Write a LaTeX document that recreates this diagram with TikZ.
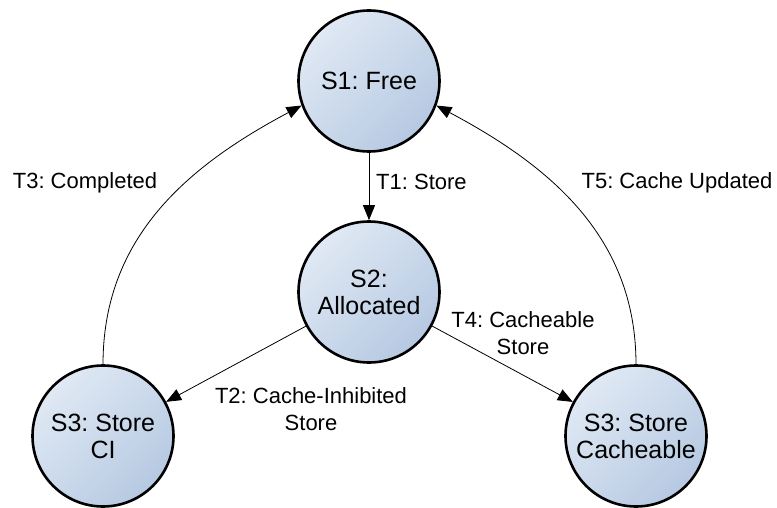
\documentclass[tikz,border=0pt]{standalone}
\usepackage{fontspec}
\setmainfont{Liberation Sans}
\usetikzlibrary{arrows.meta}
\definecolor{gradA}{HTML}{E0E9F4}
\definecolor{gradB}{HTML}{B6C9E2}
\frenchspacing
\begin{document}
\begin{tikzpicture}[x=1pt,y=1pt,
  state/.style={circle, draw=black, line width=2.6pt, minimum size=141pt, inner sep=0pt,
    align=center, font=\fontsize{25}{27}\selectfont,
    top color=gradA, bottom color=gradB, shading angle=45},
  trans/.style={-{Triangle[length=15pt,width=12pt]}, line width=0.8pt},
  lbl/.style={align=center, font=\fontsize{22}{27}\selectfont, inner sep=0pt}]
\useasboundingbox (0,0) rectangle (777,-508);
\node[state] (S1) at (369,-81) {S1: Free};
\node[state] (S2) at (369,-292) {S2:\\Allocated};
\node[state] (S3CI) at (103,-436) {S3: Store\\CI};
\node[state] (S3C) at (636,-436) {S3: Store\\Cacheable};

\draw[trans] (S1) -- (S2);
\draw[trans] (S2) -- (S3CI);
\draw[trans] (S2) -- (S3C);
\draw[trans] (S3CI.north) to[out=90,in=208] (S1.200);
\draw[trans] (S3C.north) to[out=90,in=-28] (S1.-20);

\node[lbl, anchor=west] (l1) at (376,-182) {T1: Store};
\node[lbl] (l3) at (85,-183) {T3: Completed};
\node[lbl] (l5) at (677,-183) {T5: Cache Updated};
\node[lbl] (l2) at (311,-409) {T2: Cache-Inhibited\\Store};
\node[lbl] (l4) at (523,-333) {T4: Cacheable\\Store};
\end{tikzpicture}
\end{document}
